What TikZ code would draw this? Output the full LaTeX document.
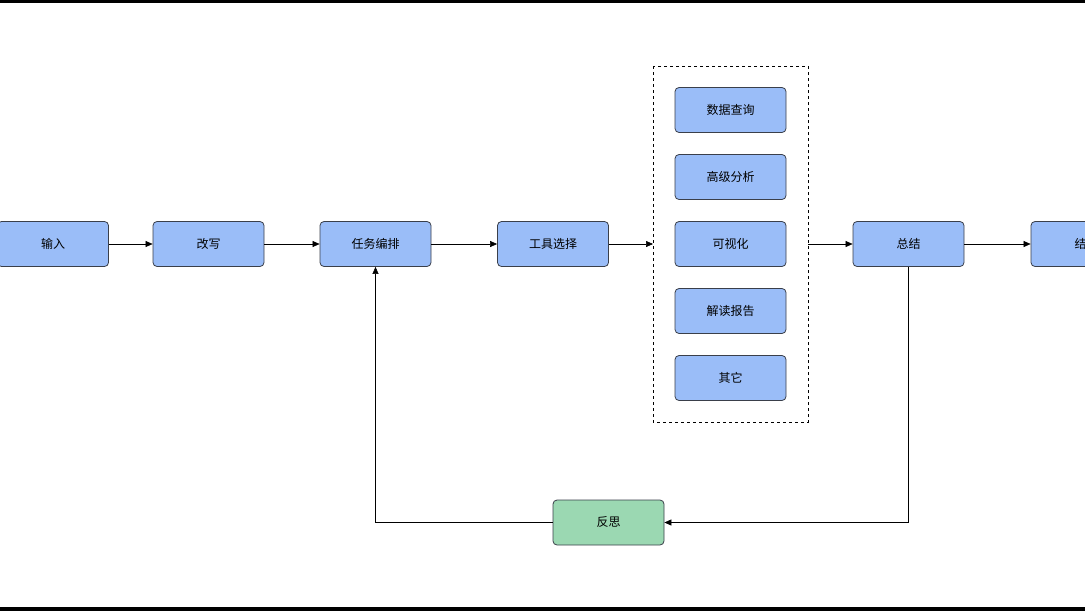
\documentclass[tikz,border=0pt]{standalone}
\usepackage{fontspec}
\setmainfont{Noto Sans CJK SC}
\usetikzlibrary{arrows.meta}
\definecolor{bfill}{HTML}{9ABDF8}
\definecolor{gfill}{HTML}{9BD8B2}
\definecolor{bdr}{HTML}{3A3F4A}
\begin{document}
\begin{tikzpicture}[x=1pt,y=-1pt,
 box/.style={draw=bdr,fill=bfill,rounded corners=4pt,minimum width=111pt,minimum height=45pt,inner sep=0pt,font=\fontsize{12}{14}\selectfont,line width=0.8pt},
 gbox/.style={box,fill=gfill},
 arr/.style={-{Triangle[length=7pt,width=6pt]},line width=0.6pt}]
\useasboundingbox (0,0) rectangle (1085,611);
\begin{scope}
\clip (0,0) rectangle (1085,611);
\fill[black] (0,0) rectangle (1085,2.5);
\fill[black] (0,607) rectangle (1085,611);
\node[box] (in) at (53,244) {输入};
\node[box] (rw) at (208.5,244) {改写};
\node[box] (task) at (375.5,244) {任务编排};
\node[box] (tool) at (553,244) {工具选择};
\draw[dashed,line width=0.6pt] (653,66) rectangle (808,422);
\coordinate (gl) at (653,244);
\coordinate (gr) at (808,244);
\node[box] (q) at (730.5,110) {数据查询};
\node[box] (a) at (730.5,177) {高级分析};
\node[box] (v) at (730.5,244) {可视化};
\node[box] (r) at (730.5,311) {解读报告};
\node[box] (o) at (730.5,378) {其它};
\node[box] (sum) at (908.5,244) {总结};
\node[box] (res) at (1086.5,244) {结果};
\node[gbox] (ref) at (608.5,522.5) {反思};
\draw[arr] (in) -- (rw);
\draw[arr] (rw) -- (task);
\draw[arr] (task) -- (tool);
\draw[arr] (tool) -- (gl);
\draw[arr] (gr) -- (sum);
\draw[arr] (sum) -- (res);
\draw[arr] (sum.south) |- (ref.east);
\draw[arr] (ref.west) -| (task.south);
\end{scope}
\end{tikzpicture}
\end{document}
